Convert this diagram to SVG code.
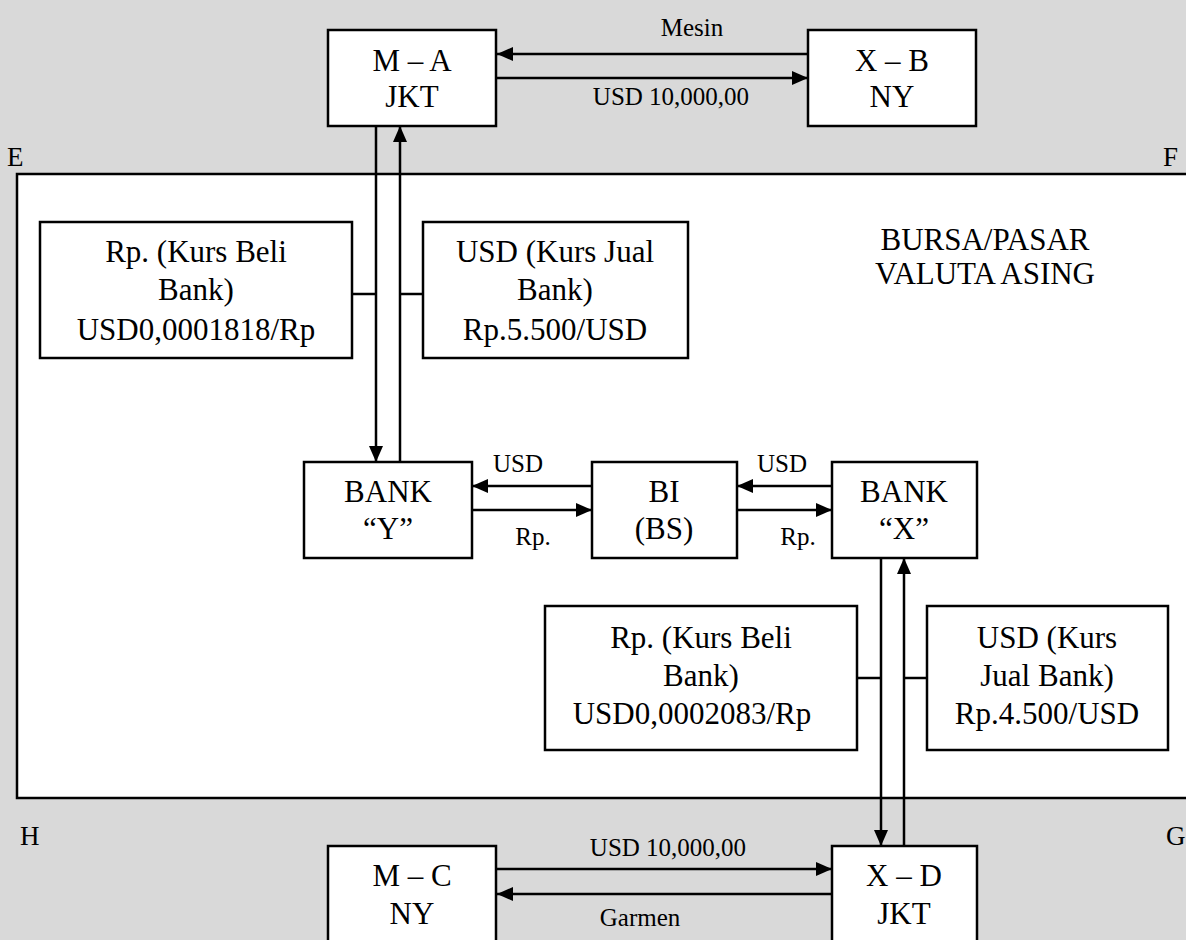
<svg xmlns="http://www.w3.org/2000/svg" width="1186" height="940" viewBox="0 0 1186 940" font-family="'Liberation Serif', 'Times New Roman', 'DejaVu Serif', serif">
<defs>
<marker id="ah" markerWidth="16" markerHeight="14" refX="16" refY="7" orient="auto" markerUnits="userSpaceOnUse">
<path d="M0,0 L16,7 L0,14 Z" fill="#000"/>
</marker>
<style>
.bg{fill:#d9d9d9}
.area{fill:#ffffff;stroke:#000;stroke-width:2.5}
.box{fill:#ffffff;stroke:#000;stroke-width:2.5}
.ln{stroke:#000;stroke-width:2.5;fill:none}
.arr{stroke:#000;stroke-width:2.5;fill:none;marker-end:url(#ah)}
text{font-family:'Liberation Serif','Times New Roman','DejaVu Serif',serif;fill:#000}
.t{font-size:31px;text-anchor:middle}
.s{font-size:25px;text-anchor:middle}
.c{font-size:27px}
</style>
</defs>
<rect class="bg" x="0" y="0" width="1186" height="940"/>
<rect class="area" x="17" y="174" width="1180" height="624"/>
<text class="c" x="7" y="166">E</text>
<text class="c" x="1163" y="166">F</text>
<text class="c" x="20" y="845">H</text>
<text class="c" x="1166" y="845">G</text>
<text class="t" x="985" y="250" font-size="27">BURSA/PASAR</text>
<text class="t" x="985" y="284" font-size="27">VALUTA ASING</text>

<g id="connectors">
<path class="arr" d="M808,54 H497"/>
<path class="arr" d="M496,78 H808"/>
<path class="arr" d="M376,126 V462"/>
<path class="arr" d="M400,462 V126"/>
<path class="ln" d="M352,294 H376"/>
<path class="ln" d="M423,294 H400"/>
<path class="arr" d="M592,486 H472"/>
<path class="arr" d="M472,510 H592"/>
<path class="arr" d="M832,486 H737"/>
<path class="arr" d="M737,510 H832"/>
<path class="arr" d="M881,558 V846"/>
<path class="arr" d="M904,846 V558"/>
<path class="ln" d="M857,678 H881"/>
<path class="ln" d="M927,678 H904"/>
<path class="arr" d="M496,869 H832"/>
<path class="arr" d="M832,894 H497"/>
<text class="s" x="692" y="36">Mesin</text>
<text class="s" x="671" y="105">USD 10,000,00</text>
<text class="s" x="518" y="472">USD</text>
<text class="s" x="533" y="545">Rp.</text>
<text class="s" x="782" y="472">USD</text>
<text class="s" x="798" y="545">Rp.</text>
<text class="s" x="668" y="856">USD 10,000,00</text>
<text class="s" x="640" y="926">Garmen</text>
</g>

<g id="node-MA"><rect class="box" x="328" y="30" width="168" height="96"/>
<text class="t" x="412" y="71">M – A</text><text class="t" x="412" y="107">JKT</text></g>
<g id="node-XB"><rect class="box" x="808" y="30" width="168" height="96"/>
<text class="t" x="892" y="71">X – B</text><text class="t" x="892" y="107">NY</text></g>
<g id="node-rp1"><rect class="box" x="40" y="222" width="312" height="136"/>
<text class="t" x="196" y="262">Rp. (Kurs Beli</text><text class="t" x="196" y="300">Bank)</text><text class="t" x="196" y="340">USD0,0001818/Rp</text></g>
<g id="node-usd1"><rect class="box" x="423" y="222" width="265" height="136"/>
<text class="t" x="555" y="262">USD (Kurs Jual</text><text class="t" x="555" y="300">Bank)</text><text class="t" x="555" y="340">Rp.5.500/USD</text></g>
<g id="node-BankY"><rect class="box" x="304" y="462" width="168" height="96"/>
<text class="t" x="388" y="502">BANK</text><text class="t" x="388" y="539">“Y”</text></g>
<g id="node-BI"><rect class="box" x="592" y="462" width="145" height="96"/>
<text class="t" x="664" y="502">BI</text><text class="t" x="664" y="539">(BS)</text></g>
<g id="node-BankX"><rect class="box" x="832" y="462" width="145" height="96"/>
<text class="t" x="904" y="502">BANK</text><text class="t" x="904" y="539">“X”</text></g>
<g id="node-rp2"><rect class="box" x="545" y="606" width="312" height="144"/>
<text class="t" x="701" y="648">Rp. (Kurs Beli</text><text class="t" x="701" y="686">Bank)</text><text class="t" x="692" y="724">USD0,0002083/Rp</text></g>
<g id="node-usd2"><rect class="box" x="927" y="606" width="241" height="144"/>
<text class="t" x="1047" y="648">USD (Kurs</text><text class="t" x="1047" y="686">Jual Bank)</text><text class="t" x="1047" y="724">Rp.4.500/USD</text></g>
<g id="node-MC"><rect class="box" x="328" y="846" width="168" height="100"/>
<text class="t" x="412" y="886">M – C</text><text class="t" x="412" y="924">NY</text></g>
<g id="node-XD"><rect class="box" x="832" y="846" width="145" height="100"/>
<text class="t" x="904" y="886">X – D</text><text class="t" x="904" y="924">JKT</text></g>
</svg>
